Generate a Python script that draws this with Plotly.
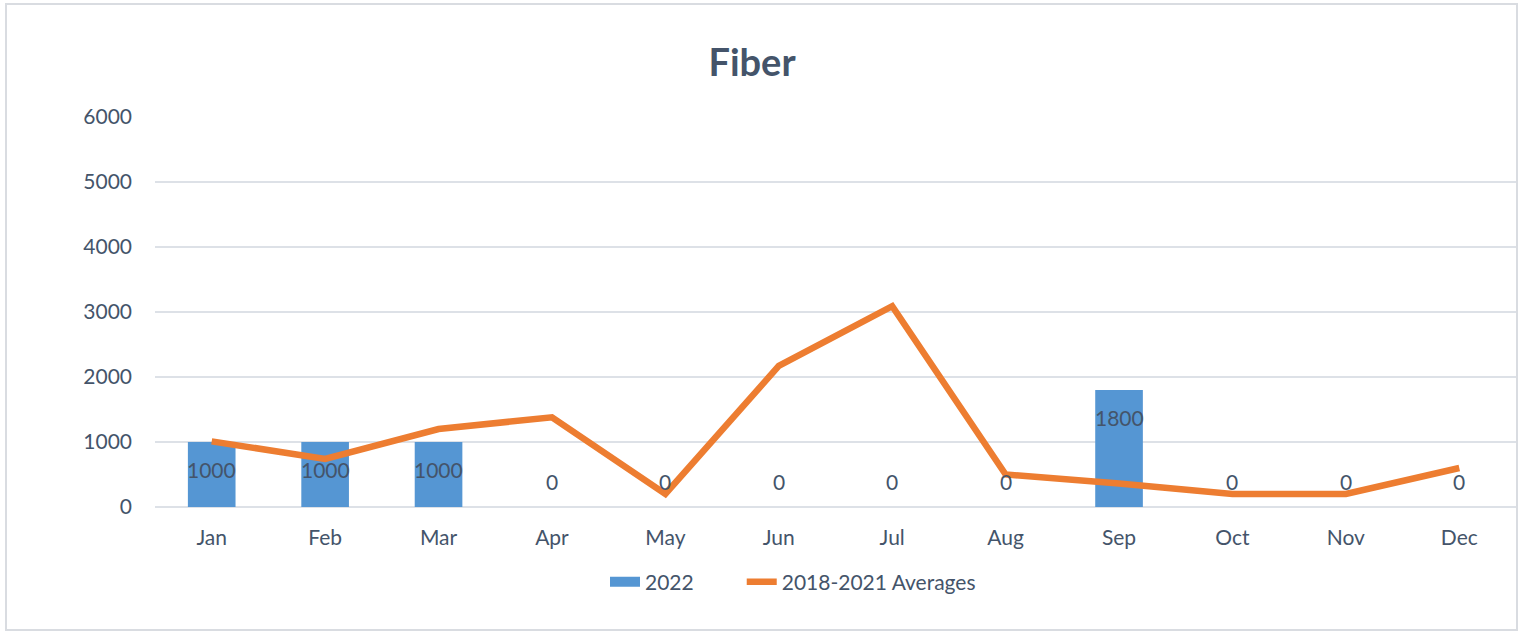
import plotly.graph_objects as go

months = ["Jan", "Feb", "Mar", "Apr", "May", "Jun", "Jul", "Aug", "Sep", "Oct", "Nov", "Dec"]
values_2022 = [1000, 1000, 1000, 0, 0, 0, 0, 0, 1800, 0, 0, 0]
averages_2018_2021 = [1010, 740, 1200, 1380, 200, 2170, 3090, 500, 360, 200, 200, 600]
y_ticks = [0, 1000, 2000, 3000, 4000, 5000, 6000]

TEXT = "#44546A"
FONT = "Lato"
BAR = "#5596D3"

W, H = 1522, 632
L, R, T, B = 155, 6, 117, 125
pw, ph = W - L - R, H - T - B

def px_x(x):
    return (x - L) / pw

def px_y(y):
    return (H - B - y) / ph

fig = go.Figure()
fig.add_trace(go.Bar(
    x=months, y=values_2022, name="2022",
    marker=dict(color=BAR, line=dict(width=0)),
    width=0.42, showlegend=False, legendgroup="2022",
))
# legend entry for the bars, drawn as a wide rectangle-like swatch
fig.add_trace(go.Scatter(
    x=[None], y=[None], name="2022" + "\u00a0" * 8, mode="lines",
    line=dict(color=BAR, width=14), legendgroup="2022",
))
fig.add_trace(go.Scatter(
    x=months, y=averages_2018_2021, name="2018-2021 Averages",
    mode="lines", line=dict(color="#ED7D31", width=6.5),
))

for m, v in zip(months, values_2022):
    fig.add_annotation(
        x=m, y=v, text=str(v), showarrow=False,
        yshift=-27 if v > 0 else 26,
        font=dict(family=FONT, size=21, color=TEXT),
    )

fig.add_shape(
    type="rect", xref="paper", yref="paper",
    x0=px_x(6), x1=px_x(1517), y0=px_y(630), y1=px_y(4),
    line=dict(color="#D9DCE1", width=2), layer="below",
)

fig.update_layout(
    width=W, height=H,
    margin=dict(l=L, r=R, t=T, b=B),
    paper_bgcolor="white", plot_bgcolor="white",
    font=dict(family=FONT, size=21, color=TEXT),
    title=dict(
        text="<b>Fiber</b>", x=px_x(752), xref="paper", xanchor="center",
        y=1 - 63 / H, yref="container", yanchor="middle",
        font=dict(family=FONT, size=38, color=TEXT),
    ),
    showlegend=True,
    legend=dict(
        orientation="h", x=px_x(605), xanchor="left",
        y=px_y(582), yanchor="middle",
        font=dict(family=FONT, size=21, color=TEXT),
        bgcolor="rgba(0,0,0,0)",
    ),
    hovermode=False,
)
fig.update_xaxes(
    showgrid=False, showline=False, zeroline=False,
    ticks="", ticklabelstandoff=16,
    tickfont=dict(family=FONT, size=21, color=TEXT),
)
fig.update_yaxes(
    range=[0, 6000], tickvals=y_ticks,
    showgrid=True, gridcolor="#DDE1E7", gridwidth=2,
    zeroline=True, zerolinecolor="#DDE1E7", zerolinewidth=2,
    showline=False, ticks="", ticklabelstandoff=22,
    tickfont=dict(family=FONT, size=21, color=TEXT),
)

fig.write_html(
    "out.html",
    config={"displayModeBar": False},
    post_script="document.body.style.margin='0';document.body.style.overflow='hidden';",
)
